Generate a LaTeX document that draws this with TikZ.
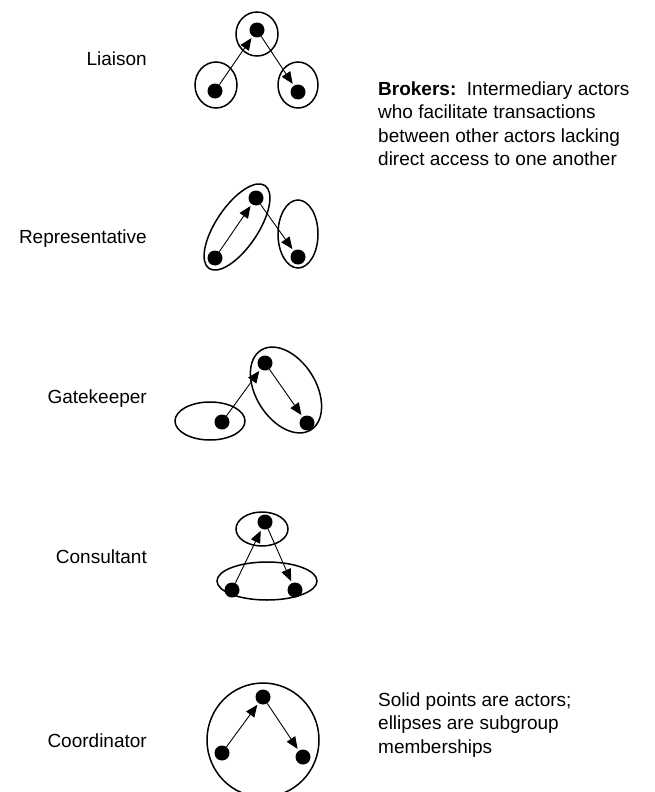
\documentclass[tikz,border=0pt]{standalone}
\usepackage{fontspec}
\setmainfont{Liberation Sans}
\usepackage{tikz}
\usetikzlibrary{arrows.meta}
\tikzstyle{brokerPic} = [x = 1pt, y = -1pt]
\tikzstyle{actorDot} = [circle, fill=black, inner sep=0pt, minimum size=15pt]
\tikzstyle{groupLine} = [color=black, line width=1.5pt]
\tikzstyle{tieArrow} = [-{Triangle[length=12pt, width=10pt]}, line width=0.9pt, shorten >=2pt]
\tikzstyle{roleText} = [anchor=base east, inner sep=0pt, font=\fontsize{19}{23.5}\selectfont]
\tikzstyle{noteText} = [anchor=base west, inner sep=0pt, align=left, font=\fontsize{19}{23.5}\selectfont]
\newcommand{\placeActor}[3]{\node [actorDot] (#1) at (#2,#3) {};}
\newcommand{\groupEllipse}[5]{\draw [groupLine, rotate around={#5:(#1,#2)}] (#1,#2) ellipse [x radius=#3, y radius=#4];}
\begin{document}
\begin{tikzpicture}[brokerPic]
        \useasboundingbox (0,0) rectangle (654,792);

        % liaison
        \node [roleText] (liaisonLabel) at (147,66) {Liaison};
        \groupEllipse{257}{34}{21}{22}{0}
        \groupEllipse{216}{85}{21}{23}{0}
        \groupEllipse{298}{85}{20}{23}{0}
        \placeActor{liaisonTop}{257}{30}
        \placeActor{liaisonLeft}{215}{91}
        \placeActor{liaisonRight}{298}{92}
        \draw [tieArrow] (liaisonLeft) -- (liaisonTop);
        \draw [tieArrow] (liaisonTop) -- (liaisonRight);

        % representative
        \node [roleText] (representativeLabel) at (147,243) {Representative};
        \groupEllipse{237}{227}{50}{21}{56}
        \groupEllipse{298}{234}{20}{34}{0}
        \placeActor{representativeTop}{256}{198}
        \placeActor{representativeLeft}{215}{258}
        \placeActor{representativeRight}{298}{257}
        \draw [tieArrow] (representativeLeft) -- (representativeTop);
        \draw [tieArrow] (representativeTop) -- (representativeRight);

        % gatekeeper
        \node [roleText] (gatekeeperLabel) at (147,403) {Gatekeeper};
        \groupEllipse{210}{421}{35}{19}{0}
        \groupEllipse{286}{390}{47}{30}{-58}
        \placeActor{gatekeeperTop}{265}{363}
        \placeActor{gatekeeperLeft}{222}{422}
        \placeActor{gatekeeperRight}{307}{423}
        \draw [tieArrow] (gatekeeperLeft) -- (gatekeeperTop);
        \draw [tieArrow] (gatekeeperTop) -- (gatekeeperRight);

        % consultant
        \node [roleText] (consultantLabel) at (147,563) {Consultant};
        \groupEllipse{262}{529}{26}{17}{0}
        \groupEllipse{267}{581}{50}{19}{0}
        \placeActor{consultantTop}{265}{522}
        \placeActor{consultantLeft}{232}{590}
        \placeActor{consultantRight}{295}{590}
        \draw [tieArrow] (consultantLeft) -- (consultantTop);
        \draw [tieArrow] (consultantTop) -- (consultantRight);

        % coordinator
        \node [roleText] (coordinatorLabel) at (147,747) {Coordinator};
        \groupEllipse{263}{740}{56}{57}{0}
        \placeActor{coordinatorTop}{263}{697}
        \placeActor{coordinatorLeft}{222}{753}
        \placeActor{coordinatorRight}{303}{757}
        \draw [tieArrow] (coordinatorLeft) -- (coordinatorTop);
        \draw [tieArrow] (coordinatorTop) -- (coordinatorRight);

        % notes (anchored at the last line)
        \node [noteText] (brokerNote) at (378,165.5) {\textbf{Brokers:}\ \ Intermediary actors\\who facilitate transactions\\between other actors lacking\\direct access to one another};
        \node [noteText] (legendNote) at (378,753) {Solid points are actors;\\ellipses are subgroup\\memberships};
\end{tikzpicture}
\end{document}
